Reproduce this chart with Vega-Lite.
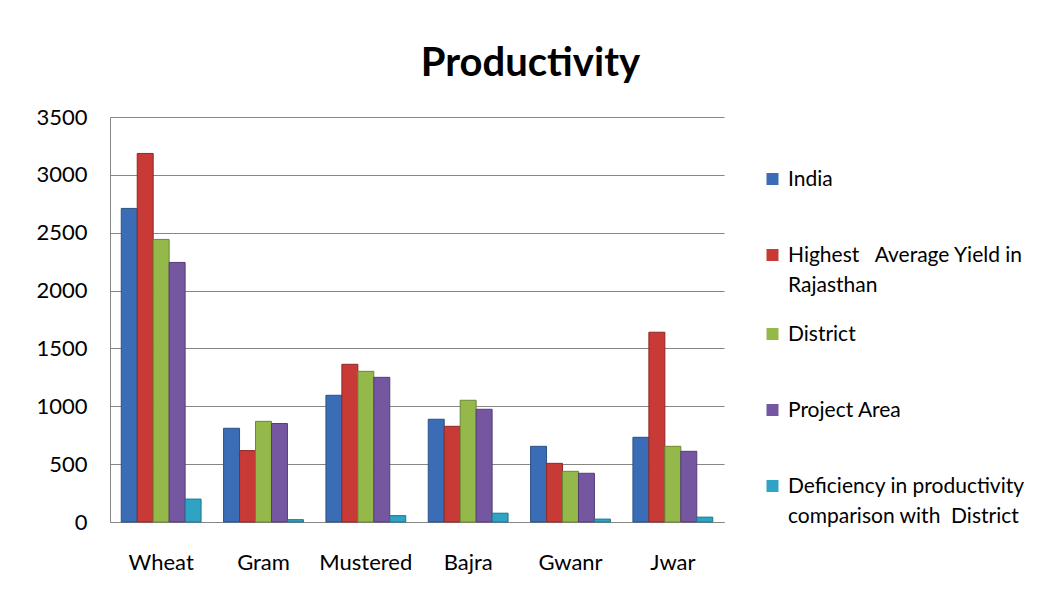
{
  "$schema": "https://vega.github.io/schema/vega-lite/v6.json",
  "width": 614,
  "height": 405,
  "autosize": {"type": "none"},
  "padding": {"left": 110, "top": 117, "right": 326, "bottom": 80},
  "background": "white",
  "title": {"text": "Productivity", "frame": "bounds", "anchor": "middle", "fontSize": 40, "fontWeight": "bold", "font": "Lato", "color": "#000000", "offset": 22},
  "data": {"values": [
    {"crop": "Wheat", "series": "India", "value": 2710},
    {"crop": "Wheat", "series": "Highest Average Yield in Rajasthan", "value": 3185},
    {"crop": "Wheat", "series": "District", "value": 2442},
    {"crop": "Wheat", "series": "Project Area", "value": 2243},
    {"crop": "Wheat", "series": "Deficiency in productivity comparison with District", "value": 198},
    {"crop": "Gram", "series": "India", "value": 810},
    {"crop": "Gram", "series": "Highest Average Yield in Rajasthan", "value": 617},
    {"crop": "Gram", "series": "District", "value": 870},
    {"crop": "Gram", "series": "Project Area", "value": 851},
    {"crop": "Gram", "series": "Deficiency in productivity comparison with District", "value": 20},
    {"crop": "Mustered", "series": "India", "value": 1095},
    {"crop": "Mustered", "series": "Highest Average Yield in Rajasthan", "value": 1363},
    {"crop": "Mustered", "series": "District", "value": 1302},
    {"crop": "Mustered", "series": "Project Area", "value": 1250},
    {"crop": "Mustered", "series": "Deficiency in productivity comparison with District", "value": 55},
    {"crop": "Bajra", "series": "India", "value": 888},
    {"crop": "Bajra", "series": "Highest Average Yield in Rajasthan", "value": 827},
    {"crop": "Bajra", "series": "District", "value": 1052},
    {"crop": "Bajra", "series": "Project Area", "value": 974},
    {"crop": "Bajra", "series": "Deficiency in productivity comparison with District", "value": 76},
    {"crop": "Gwanr", "series": "India", "value": 654},
    {"crop": "Gwanr", "series": "Highest Average Yield in Rajasthan", "value": 507},
    {"crop": "Gwanr", "series": "District", "value": 438},
    {"crop": "Gwanr", "series": "Project Area", "value": 421},
    {"crop": "Gwanr", "series": "Deficiency in productivity comparison with District", "value": 25},
    {"crop": "Jwar", "series": "India", "value": 732},
    {"crop": "Jwar", "series": "Highest Average Yield in Rajasthan", "value": 1640},
    {"crop": "Jwar", "series": "District", "value": 654},
    {"crop": "Jwar", "series": "Project Area", "value": 611},
    {"crop": "Jwar", "series": "Deficiency in productivity comparison with District", "value": 42}
  ]},
  "mark": {"type": "bar", "strokeWidth": 1},
  "encoding": {
    "x": {
      "field": "crop", "type": "nominal",
      "sort": ["Wheat", "Gram", "Mustered", "Bajra", "Gwanr", "Jwar"],
      "scale": {"paddingInner": 0.22, "paddingOuter": 0.11},
      "axis": {"title": null, "labelAngle": 0, "ticks": false, "domainColor": "#868686", "labelFontSize": 22, "labelPadding": 30, "labelColor": "#000000", "labelFont": "Lato"}
    },
    "xOffset": {
      "field": "series", "type": "nominal",
      "sort": ["India", "Highest Average Yield in Rajasthan", "District", "Project Area", "Deficiency in productivity comparison with District"]
    },
    "y": {
      "field": "value", "type": "quantitative",
      "scale": {"domain": [0, 3500]},
      "axis": {"title": null, "format": "d", "values": [0, 500, 1000, 1500, 2000, 2500, 3000, 3500], "ticks": false, "domain": true, "domainColor": "#868686", "domainWidth": 1, "gridColor": "#868686", "gridOpacity": 1, "labelFontSize": 22, "labelPadding": 23, "labelColor": "#000000", "labelFont": "Lato"}
    },
    "color": {
      "field": "series", "type": "nominal",
      "scale": {
        "domain": ["India", "Highest Average Yield in Rajasthan", "District", "Project Area", "Deficiency in productivity comparison with District"],
        "range": ["#3A6DB5", "#C73A36", "#95B84A", "#7556A0", "#2FA3C4"]
      },
      "legend": {
        "title": null,
        "orient": "none",
        "legendX": 652,
        "legendY": 24,
        "padding": 0,
        "rowPadding": 0,
        "clipHeight": 76,
        "symbolType": "square",
        "symbolSize": 144,
        "symbolStrokeWidth": 0,
        "labelFontSize": 21,
        "labelFont": "Lato",
        "labelColor": "#000000",
        "labelOffset": 5,
        "labelLimit": 400,
        "labelBaseline": "alphabetic",
        "labelExpr": "datum.label == 'Highest Average Yield in Rajasthan' ? ['Highest\u00a0\u00a0\u00a0Average Yield in', 'Rajasthan'] : datum.label == 'Deficiency in productivity comparison with District' ? ['Deficiency in productivity', 'comparison with\u00a0\u00a0District'] : datum.label",
        "encode": {"labels": {"update": {"dy": {"value": 7}, "lineHeight": {"value": 30}}}}
      }
    },
    "stroke": {
      "field": "series", "type": "nominal",
      "scale": {
        "domain": ["India", "Highest Average Yield in Rajasthan", "District", "Project Area", "Deficiency in productivity comparison with District"],
        "range": ["#2B5186", "#8E2926", "#6C8634", "#553D75", "#20738B"]
      },
      "legend": null
    }
  },
  "config": {"view": {"stroke": null}, "axisY": {"domain": true}}
}
